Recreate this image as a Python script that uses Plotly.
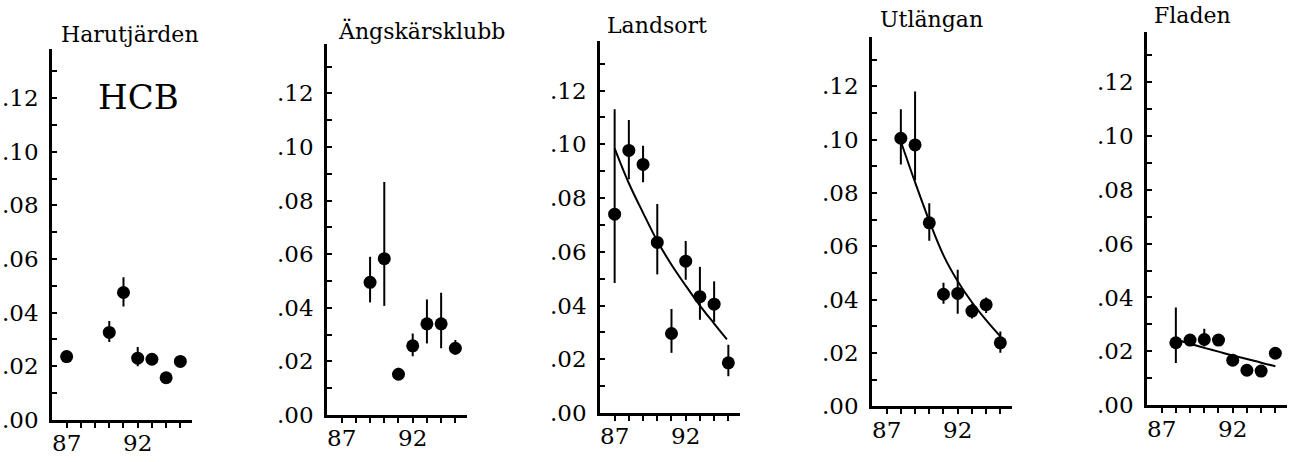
import plotly.graph_objects as go

# ---------------- data ----------------
site_names = ["Harutjärden", "Ängskärsklubb", "Landsort", "Utlängan", "Fladen"]

harut_years = [87, 90, 91, 92, 93, 94, 95]
harut_vals = [0.0236, 0.0326, 0.0475, 0.0230, 0.0226, 0.0157, 0.0218]
harut_hi = [0.0236, 0.0369, 0.0532, 0.0272, 0.0226, 0.0157, 0.0236]
harut_lo = [0.0236, 0.0290, 0.0423, 0.0200, 0.0226, 0.0157, 0.0200]

angs_years = [89, 90, 91, 92, 93, 94, 95]
angs_vals = [0.0495, 0.0583, 0.0152, 0.0258, 0.0340, 0.0340, 0.0249]
angs_hi = [0.0590, 0.0869, 0.0176, 0.0304, 0.0431, 0.0456, 0.0280]
angs_lo = [0.0420, 0.0407, 0.0134, 0.0219, 0.0267, 0.0249, 0.0225]

land_years = [87, 88, 89, 90, 91, 92, 93, 94, 95]
land_vals = [0.0740, 0.0977, 0.0925, 0.0635, 0.0296, 0.0565, 0.0433, 0.0405, 0.0187]
land_hi = [0.1130, 0.1090, 0.0995, 0.0778, 0.0387, 0.0640, 0.0544, 0.0490, 0.0254]
land_lo = [0.0484, 0.0870, 0.0859, 0.0516, 0.0224, 0.0496, 0.0347, 0.0339, 0.0137]
land_fit_years = [87, 88, 89, 90, 91, 92, 93, 94, 94.9]
land_fit = [0.0985, 0.0855, 0.0745, 0.0640, 0.0552, 0.0474, 0.0400, 0.0333, 0.0274]

utl_years = [88, 89, 90, 91, 92, 93, 94, 95]
utl_vals = [0.1005, 0.0980, 0.0688, 0.0420, 0.0423, 0.0357, 0.0381, 0.0238]
utl_hi = [0.1114, 0.1180, 0.0761, 0.0463, 0.0512, 0.0384, 0.0408, 0.0280]
utl_lo = [0.0907, 0.0847, 0.0621, 0.0384, 0.0347, 0.0329, 0.0350, 0.0201]
utl_fit_years = [88, 89, 90, 91, 92, 93, 94, 95]
utl_fit = [0.0993, 0.0840, 0.0695, 0.0566, 0.0469, 0.0390, 0.0323, 0.0262]

flad_years = [88, 89, 90, 91, 92, 93, 94, 95]
flad_vals = [0.0232, 0.0242, 0.0244, 0.0242, 0.0167, 0.0130, 0.0127, 0.0193]
flad_hi = [0.0363, 0.0260, 0.0284, 0.0260, 0.0167, 0.0130, 0.0127, 0.0193]
flad_lo = [0.0157, 0.0224, 0.0218, 0.0224, 0.0167, 0.0130, 0.0127, 0.0193]
flad_fit_years = [88, 89, 90, 91, 92, 93, 94, 95]
flad_fit = [0.0244, 0.0228, 0.0213, 0.0199, 0.0185, 0.0172, 0.0158, 0.0145]

x_tick_years = [87, 88, 89, 90, 91, 92, 93, 94, 95]
x_tick_labels = ["87", "", "", "", "", "92", "", "", ""]
y_tick_vals = [0.00, 0.01, 0.02, 0.03, 0.04, 0.05, 0.06, 0.07, 0.08, 0.09, 0.10, 0.11, 0.12, 0.13]
y_tick_labels = [".00", "", ".02", "", ".04", "", ".06", "", ".08", "", ".10", "", ".12", ""]

panel_label = "HCB"

series = [
    (harut_years, harut_vals, harut_hi, harut_lo, None, None),
    (angs_years, angs_vals, angs_hi, angs_lo, None, None),
    (land_years, land_vals, land_hi, land_lo, land_fit_years, land_fit),
    (utl_years, utl_vals, utl_hi, utl_lo, utl_fit_years, utl_fit),
    (flad_years, flad_vals, flad_hi, flad_lo, flad_fit_years, flad_fit),
]

# ---------------- layout geometry (pixels) ----------------
W, H = 1296, 462
boxes = [  # xL, xR, yBottom, yTop
    (52, 192, 432, 50),
    (327, 467, 427, 45),
    (600, 740, 425, 42),
    (872, 1012, 418, 38),
    (1147, 1287, 417, 33),
]
title_pos = [(130, 35), (421, 32), (657, 26), (931, 20), (1192, 16)]

FONT = "DejaVu Serif"
fig = go.Figure()
layout = dict(
    width=W, height=H, margin=dict(l=0, r=0, t=0, b=0),
    paper_bgcolor="white", plot_bgcolor="white", showlegend=False,
    font=dict(family=FONT, color="black"),
)
annotations = []

for i, (yrs, vals, hi, lo, fy, fv) in enumerate(series):
    n = "" if i == 0 else str(i + 1)
    xa, ya = "x" + n, "y" + n
    plus = [h - v for h, v in zip(hi, vals)]
    minus = [v - l for v, l in zip(vals, lo)]
    if fy is not None:
        fig.add_trace(go.Scatter(x=fy, y=fv, mode="lines", xaxis=xa, yaxis=ya,
                                 line=dict(color="black", width=2, shape="spline"),
                                 hoverinfo="skip"))
    fig.add_trace(go.Scatter(
        x=yrs, y=vals, mode="markers", xaxis=xa, yaxis=ya,
        marker=dict(color="black", size=13, symbol="circle"),
        error_y=dict(type="data", symmetric=False, array=plus, arrayminus=minus,
                     color="black", thickness=2, width=0),
    ))
    xL, xR, yB, yT = boxes[i]
    layout["xaxis" + n] = dict(
        domain=[xL / W, xR / W], range=[85.97, 95.82], anchor=ya,
        showline=True, linecolor="black", linewidth=2.5, showgrid=False, zeroline=False,
        ticks="outside", ticklen=5, tickwidth=2, tickcolor="black",
        tickvals=x_tick_years, ticktext=x_tick_labels,
        tickfont=dict(family=FONT, size=23, color="black"),
        ticklabelstandoff=-4,
    )
    layout["yaxis" + n] = dict(
        domain=[(H - yB) / H, (H - yT) / H], range=[0, 0.1385], anchor=xa,
        showline=True, linecolor="black", linewidth=2.5, showgrid=False, zeroline=False,
        ticks="inside", ticklen=5, tickwidth=2, tickcolor="black",
        tickvals=y_tick_vals, ticktext=y_tick_labels,
        tickfont=dict(family=FONT, size=23, color="black"),
        ticklabelstandoff=6,
    )
    tx, ty = title_pos[i]
    annotations.append(dict(text=site_names[i], x=tx / W, y=(H - ty) / H, xref="paper", yref="paper",
                            xanchor="center", yanchor="middle", showarrow=False,
                            font=dict(family=FONT, size=22, color="black")))

annotations.append(dict(text=panel_label, x=138 / W, y=(H - 100) / H, xref="paper", yref="paper",
                        xanchor="center", yanchor="middle", showarrow=False,
                        font=dict(family=FONT, size=34, color="black")))
layout["annotations"] = annotations
fig.update_layout(**layout)
fig.write_html("out.html")
